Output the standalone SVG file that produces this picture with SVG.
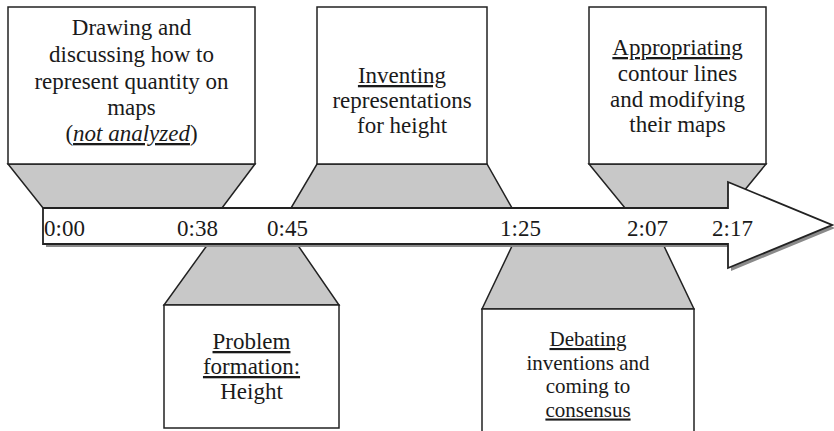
<svg xmlns="http://www.w3.org/2000/svg" width="834" height="431" viewBox="0 0 834 431">
<style>
.trap{fill:#c8c8c8;stroke:#222;stroke-width:1.5;stroke-linejoin:miter}
.box{fill:#fff;stroke:#222;stroke-width:1.5}
text{font-family:"Liberation Serif",Tinos,"Times New Roman","Noto Serif","DejaVu Serif",serif;font-size:23px;fill:#1a1a1a}
.t{text-anchor:middle}
.u{text-decoration:underline}
.s{font-size:21px}
</style>
<rect width="834" height="431" fill="#fff"/>
<g id="connectors">
<polygon class="trap" points="8,164 255,164 222,208 43,208"/>
<polygon class="trap" points="317,164 487,164 512,208 291,208"/>
<polygon class="trap" points="589,164 766,164 730,208 625,208"/>
<polygon class="trap" points="208,244 297,244 339,305 164,305"/>
<polygon class="trap" points="513,244 663,244 694,309 482,309"/>
</g>
<g id="node-drawing">
<rect class="box" x="8" y="7" width="247" height="157"/>
<text class="t" x="131.5" y="35">Drawing and</text>
<text class="t" x="131.5" y="62">discussing how to</text>
<text class="t" x="131.5" y="89">represent quantity on</text>
<text class="t" x="131.5" y="115">maps</text>
<text class="t" x="131.5" y="141">(<tspan class="u" font-style="italic">not analyzed</tspan>)</text>
</g>
<g id="node-inventing">
<rect class="box" x="317" y="7" width="170" height="157"/>
<text class="t" x="402" y="83"><tspan class="u">Inventing</tspan></text>
<text class="t" x="402" y="108">representations</text>
<text class="t" x="402" y="133">for height</text>
</g>
<g id="node-appropriating">
<rect class="box" x="589" y="7" width="177" height="157"/>
<text class="t" x="677.5" y="55"><tspan class="u">Appropriating</tspan></text>
<text class="t" x="677.5" y="81">contour lines</text>
<text class="t" x="677.5" y="107">and modifying</text>
<text class="t" x="677.5" y="132">their maps</text>
</g>
<g id="node-problem">
<rect class="box" x="164" y="305" width="175" height="123"/>
<text class="t" x="251.5" y="349"><tspan class="u">Problem</tspan></text>
<text class="t" x="251.5" y="374"><tspan class="u">formation:</tspan></text>
<text class="t" x="251.5" y="399">Height</text>
</g>
<g id="node-debating">
<rect class="box" x="482" y="309" width="212" height="130"/>
<text class="t s" x="588" y="346"><tspan class="u">Debating</tspan></text>
<text class="t s" x="588" y="369.5">inventions and</text>
<text class="t s" x="588" y="393">coming to</text>
<text class="t s" x="588" y="416.5"><tspan class="u">consensus</tspan></text>
</g>
<g id="timeline">
<polygon points="46,211 731,211 731,185 835,228 731,271 731,247 46,247" fill="#8a8a8a"/>
<polygon points="43,208 728,208 728,182 832,225 728,268 728,244 43,244" fill="#fff" stroke="#222" stroke-width="1.8" stroke-linejoin="miter"/>
<text x="44" y="236">0:00</text>
<text x="177" y="236">0:38</text>
<text x="267" y="236">0:45</text>
<text x="500" y="236">1:25</text>
<text x="627" y="236">2:07</text>
<text x="712" y="236">2:17</text>
</g>
</svg>
